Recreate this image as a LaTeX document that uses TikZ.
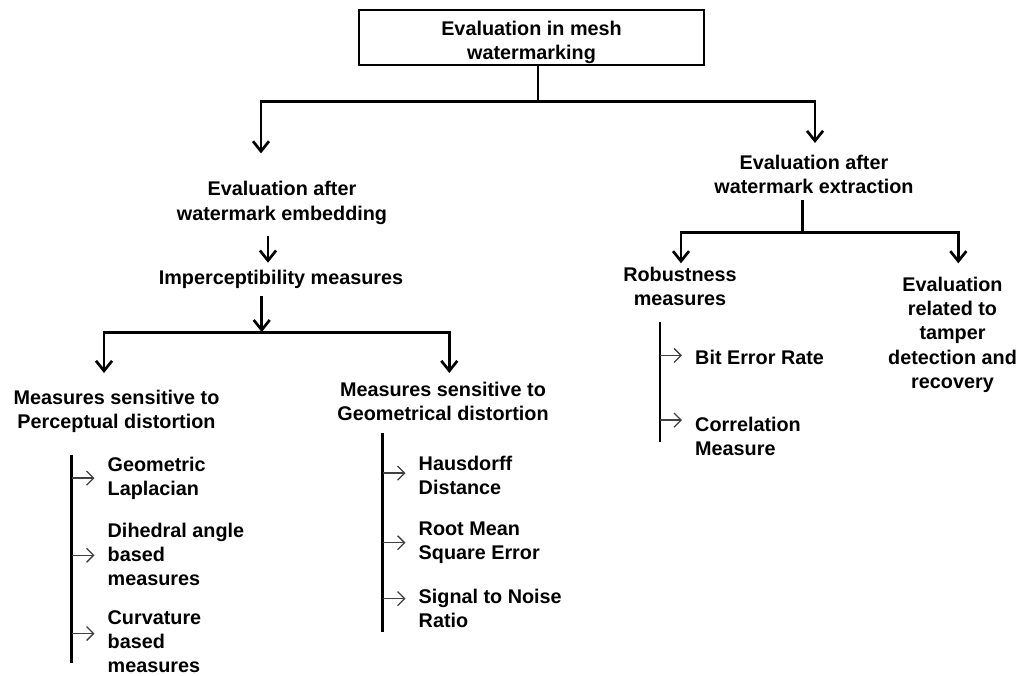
\documentclass[tikz,border=0pt]{standalone}
\usepackage{fontspec}
\setmainfont{Liberation Sans}
\usetikzlibrary{arrows.meta}

\begin{document}
\begin{tikzpicture}[
  x=1pt, y=-1pt,
  lbl/.style={inner sep=0pt, align=center, font=\bfseries\fontsize{19.8}{24.3}\selectfont},
  leaf/.style={lbl, align=left, anchor=north west},
  topbox/.style={lbl, draw, line width=2.7pt, minimum width=345pt, minimum height=55pt},
  conn/.style={line width=2.7pt},
  arr/.style={conn, -{Straight Barb[length=10pt, width=16pt]}},
  sarr/.style={line width=1.3pt, black!75, -{Straight Barb[length=7pt, width=14pt]}}
]
\useasboundingbox (0,0) rectangle (1019,675);

\node[topbox] (title) at (531.5,37.5) {\rule{0pt}{24pt}Evaluation in mesh\\watermarking};
\node[lbl, anchor=north] (embed) at (282,181.4) {Evaluation after\\watermark embedding};
\node[lbl, anchor=north] (imper) at (281,269.7) {Imperceptibility measures};
\node[lbl, anchor=north] (perc) at (116.5,390) {Measures sensitive to\\Perceptual distortion};
\node[lbl, anchor=north] (geom) at (443,381.7) {Measures sensitive to\\Geometrical distortion};
\node[lbl, anchor=north] (extr) at (814,155) {Evaluation after\\watermark extraction};
\node[lbl, anchor=north] (robust) at (680,266.7) {Robustness\\measures};
\node[lbl, anchor=north] (tamper) at (952.5,276.7) {Evaluation\\related to\\tamper\\detection and\\recovery};

% list items
\node[leaf] (geol) at (107.5,456.5) {Geometric\\Laplacian};
\node[leaf] (dihe) at (107.5,522.5) {Dihedral angle\\based\\measures};
\node[leaf] (curv) at (107.5,610) {Curvature\\based\\measures};
\node[leaf] (haus) at (418.5,455.5) {Hausdorff\\Distance};
\node[leaf] (rmse) at (418.5,521.5) {Root Mean\\Square Error};
\node[leaf] (snr) at (418.5,589) {Signal to Noise\\Ratio};
\node[leaf] (ber) at (695,350) {Bit Error Rate};
\node[leaf] (corr) at (695,416.5) {Correlation\\Measure};

% top level
\draw[conn] ([xshift=6.5pt]title.south) -- ++(0,35) coordinate (busT);
\draw[arr] (busT) -| ([xshift=-21pt,yshift=28pt]embed.north);
\draw[arr] (busT) -| ([xshift=1pt,yshift=12pt]extr.north);

% embedding side
\draw[arr, shorten <=11pt, shorten >=7pt] ([xshift=-14pt]embed.south) -- ([xshift=-13pt]imper.north);
\draw[arr, shorten <=7pt] ([xshift=-19.3pt]imper.south) -- ++(0,43.6) coordinate (busI);
\draw[arr] (busI) -| ([xshift=-12.5pt,yshift=17pt]perc.north);
\draw[arr] (busI) -| ([xshift=6.3pt,yshift=8.7pt]geom.north);

% extraction side
\draw[conn, shorten <=6pt] ([xshift=-11.3pt]extr.south) -- ++(0,38) coordinate (busE);
\draw[arr] (busE) -| ([xshift=1pt,yshift=3.4pt]robust.north);
\draw[arr] (busE) -| ([xshift=5.8pt,yshift=13.4pt]tamper.north);

% lists
\draw[conn] ([xshift=-35.8pt,yshift=1.5pt]geol.north west) -- ([xshift=-35.8pt,yshift=10pt]curv.south west);
\draw[conn] ([xshift=-35.8pt,yshift=22.5pt]haus.north west) -- ([xshift=-35.8pt,yshift=-3.6pt]snr.south west);
\draw[conn] ([xshift=-35pt,yshift=28.3pt]ber.north west) -- ([xshift=-35pt,yshift=13.6pt]corr.south west);
\foreach \n/\s in {geol/0, dihe/-1, curv/8, haus/2, rmse/0, snr/10, ber/2, corr/16}
  \draw[sarr] ([xshift=-35.5pt,yshift=\s pt]\n.west) -- ++(22.5,0);
\end{tikzpicture}
\end{document}
